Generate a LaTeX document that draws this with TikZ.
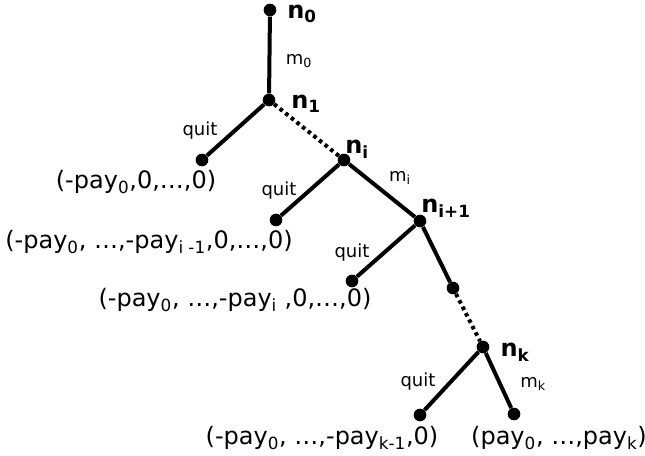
\documentclass[tikz,border=0pt]{standalone}
\usepackage{fontspec}
\setmainfont{DejaVu Sans}
\begin{document}
\begin{tikzpicture}[x=0.75pt,y=-0.75pt,
  tdot/.style={circle,fill=black,inner sep=0pt,minimum size=9.5pt},
  edge/.style={line width=3pt},
  dotedge/.style={line width=3pt,dash pattern=on 2.7pt off 2.7pt},
  nlab/.style={font=\fontsize{18}{21}\selectfont\bfseries,inner sep=0pt},
  elab/.style={font=\fontsize{13.5}{16}\selectfont,inner sep=0pt},
  leaf/.style={font=\fontsize{18}{21}\selectfont,inner sep=0pt}]
\useasboundingbox (0,0) rectangle (645,455);
% nodes
\node[tdot] (n0) at (270,10) {};
\node[tdot] (n1) at (269,100) {};
\node[tdot] (l1) at (202,160) {};
\node[tdot] (ni) at (344,160) {};
\node[tdot] (l2) at (276,220) {};
\node[tdot] (ni1) at (420,221) {};
\node[tdot] (l3) at (352,281) {};
\node[tdot] (d1) at (453,288) {};
\node[tdot] (nk) at (483,347) {};
\node[tdot] (l4) at (420,415) {};
\node[tdot] (l5) at (514,414) {};
% edges
\draw[edge] (n0) -- (n1);
\draw[edge] (n1) -- (l1);
\draw[dotedge] (n1) -- (ni);
\draw[edge] (ni) -- (l2);
\draw[edge] (ni) -- (ni1);
\draw[edge] (ni1) -- (l3);
\draw[edge] (ni1) -- (d1);
\draw[dotedge] (d1) -- (nk);
\draw[edge] (nk) -- (l4);
\draw[edge] (nk) -- (l5);
% node labels
\node[nlab] (t0) at (302,14) {n\textsubscript{0}};
\node[nlab] (t1) at (306,104) {n\textsubscript{1}};
\node[nlab] (ti) at (357,149) {n\textsubscript{i}};
\node[nlab] (ti1) at (446,208) {n\textsubscript{i+1}};
\node[nlab] (tk) at (515,352) {n\textsubscript{k}};
% edge labels
\node[elab] (m0) at (299,61) {m\textsubscript{0}};
\node[elab] (q1) at (200,131) {quit};
\node[elab] (mi) at (400,178) {m\textsubscript{i}};
\node[elab] (q2) at (279,191) {quit};
\node[elab] (q3) at (352,253) {quit};
\node[elab] (q4) at (418,382) {quit};
\node[elab] (mk) at (533,384) {m\textsubscript{k}};
% leaf labels
\node[leaf] (p1) at (136,182) {(-pay\textsubscript{0},0,…,0)};
\node[leaf] (p2) at (149,242) {(-pay\textsubscript{0}, …,-pay\textsubscript{i -1},0,…,0)};
\node[leaf] (p3) at (235,300) {(-pay\textsubscript{0}, …,-pay\textsubscript{i} ,0,…,0)};
\node[leaf] (p4) at (322,438) {(-pay\textsubscript{0}, …,-pay\textsubscript{k-1},0)};
\node[leaf] (p5) at (559,438) {(pay\textsubscript{0}, …,pay\textsubscript{k})};
\end{tikzpicture}
\end{document}
